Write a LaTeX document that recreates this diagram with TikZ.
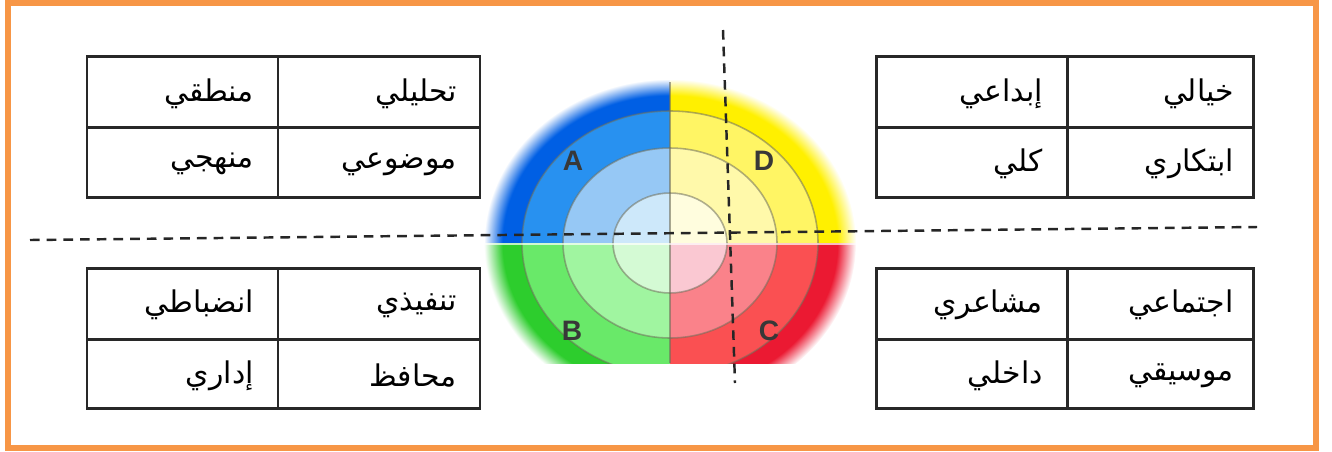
\documentclass[tikz,border=0pt]{standalone}
\usepackage{fontspec}
\setmainfont{Liberation Sans}
\newfontfamily\arabicfont[Script=Arabic]{DejaVu Sans}
\TeXXeTstate=1
\definecolor{frameorange}{RGB}{247,150,70}
\definecolor{tableline}{RGB}{40,40,40}
\definecolor{blueA}{RGB}{0,95,228}
\definecolor{blueB}{RGB}{40,145,240}
\definecolor{blueC}{RGB}{150,200,245}
\definecolor{blueD}{RGB}{205,232,250}
\definecolor{yelA}{RGB}{255,240,0}
\definecolor{yelB}{RGB}{255,245,100}
\definecolor{yelC}{RGB}{255,249,170}
\definecolor{yelD}{RGB}{255,253,222}
\definecolor{greA}{RGB}{45,205,45}
\definecolor{greB}{RGB}{105,233,105}
\definecolor{greC}{RGB}{160,245,160}
\definecolor{greD}{RGB}{212,250,212}
\definecolor{redA}{RGB}{235,25,50}
\definecolor{redB}{RGB}{250,80,82}
\definecolor{redC}{RGB}{250,130,138}
\definecolor{redD}{RGB}{250,200,210}
\definecolor{ringline}{RGB}{110,110,90}
\pgfdeclareradialshading{blueblur}{\pgfpoint{0bp}{0bp}}{color(0bp)=(blueA);color(22.5bp)=(blueA);color(25bp)=(white);color(50bp)=(white)}
\pgfdeclareradialshading{yelblur}{\pgfpoint{0bp}{0bp}}{color(0bp)=(yelA);color(22.5bp)=(yelA);color(25bp)=(white);color(50bp)=(white)}
\pgfdeclareradialshading{greblur}{\pgfpoint{0bp}{0bp}}{color(0bp)=(greA);color(22.5bp)=(greA);color(25bp)=(white);color(50bp)=(white)}
\pgfdeclareradialshading{redblur}{\pgfpoint{0bp}{0bp}}{color(0bp)=(redA);color(22.5bp)=(redA);color(25bp)=(white);color(50bp)=(white)}
\tikzset{
  tablegrid/.style={draw=tableline, line width=1.7pt},
  celltext/.style={anchor=east, inner sep=0pt, font=\arabicfont\fontsize{17}{20}\selectfont},
  quadletter/.style={font=\bfseries\fontsize{16}{18}\selectfont, text=black!78},
  dashline/.style={draw=black!85, line width=1.4pt, dash pattern=on 5.5pt off 4pt},
  rings/.style={draw=ringline, draw opacity=0.55, line width=0.9pt}
}
\newcommand{\quadrant}[5]{% clip rect, shading, colors B C D
  \begin{scope}
    \clip #1;
    \shade[shading=#2] (670,243) ellipse [x radius=186, y radius=164];
    \fill[#3] (670,243) ellipse [x radius=148, y radius=132];
    \fill[#4] (670,243) ellipse [x radius=107, y radius=95];
    \fill[#5] (670,243) ellipse [x radius=57, y radius=50];
  \end{scope}}
\begin{document}
\begin{tikzpicture}[x=0.02cm, y=-0.02cm]
\useasboundingbox (0,0) rectangle (1332,451);
% frame
\draw[draw=frameorange, line width=2.9pt] (8,3) rectangle (1316,448);

% quadrant disc
\quadrant{(460,20) rectangle (670,243)}{blueblur}{blueB}{blueC}{blueD}
\quadrant{(670,20) rectangle (880,243)}{yelblur}{yelB}{yelC}{yelD}
\quadrant{(460,243) rectangle (670,363)}{greblur}{greB}{greC}{greD}
\quadrant{(670,243) rectangle (880,363)}{redblur}{redB}{redC}{redD}
\begin{scope}
  \clip (460,20) rectangle (880,363);
  \draw[rings] (670,243) ellipse [x radius=148, y radius=132];
  \draw[rings] (670,243) ellipse [x radius=107, y radius=95];
  \draw[rings] (670,243) ellipse [x radius=57, y radius=50];
\end{scope}
\draw[draw=ringline, draw opacity=0.6, line width=0.9pt] (670,82) -- (670,363);
\draw[draw=white, draw opacity=0.7, line width=0.8pt] (480,244) -- (860,244);
\node[quadletter] (A) at (573,161) {A};
\node[quadletter] (D) at (764,161) {D};
\node[quadletter] (B) at (572,331) {B};
\node[quadletter] (C) at (769,331) {C};

% dashed axes
\coordinate (hl) at (30,240);
\coordinate (hr) at (1257,227);
\coordinate (vt) at (723,30);
\coordinate (vb) at (735,383);
\draw[dashline] (hl) -- (hr);
\draw[dashline] (vt) -- (vb);

% tables
\draw[tablegrid] (87,56) rectangle (480,197) (278,56) -- (278,197) (87,127) -- (480,127);
\draw[tablegrid] (876,56) rectangle (1253,197) (1067,56) -- (1067,197) (876,127) -- (1253,127);
\draw[tablegrid] (87,268) rectangle (480,408) (278,268) -- (278,408) (87,339) -- (480,339);
\draw[tablegrid] (876,268) rectangle (1253,408) (1067,268) -- (1067,408) (876,339) -- (1253,339);

% table texts (top-left)
\node[celltext] (t1a) at (457,94) {\beginR تحليلي\endR};
\node[celltext] (t1b) at (254,94) {\beginR منطقي\endR};
\node[celltext] (t1c) at (457,164) {\beginR موضوعي\endR};
\node[celltext] (t1d) at (254,164) {\beginR منهجي\endR};
% top-right
\node[celltext] (t2a) at (1234,94) {\beginR خيالي\endR};
\node[celltext] (t2b) at (1043,94) {\beginR إبداعي\endR};
\node[celltext] (t2c) at (1234,164) {\beginR ابتكاري\endR};
\node[celltext] (t2d) at (1043,164) {\beginR كلي\endR};
% bottom-left
\node[celltext] (t3a) at (457,305) {\beginR تنفيذي\endR};
\node[celltext] (t3b) at (254,305) {\beginR انضباطي\endR};
\node[celltext] (t3c) at (457,376) {\beginR محافظ\endR};
\node[celltext] (t3d) at (254,376) {\beginR إداري\endR};
% bottom-right
\node[celltext] (t4a) at (1234,305) {\beginR اجتماعي\endR};
\node[celltext] (t4b) at (1043,305) {\beginR مشاعري\endR};
\node[celltext] (t4c) at (1234,376) {\beginR موسيقي\endR};
\node[celltext] (t4d) at (1043,376) {\beginR داخلي\endR};
\end{tikzpicture}
\end{document}
